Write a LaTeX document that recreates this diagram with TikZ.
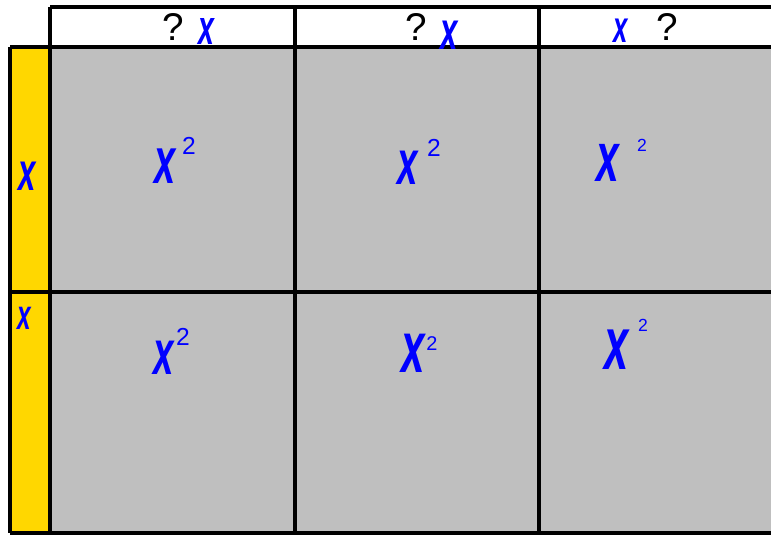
\documentclass[tikz,border=0pt]{standalone}
\usepackage{fontspec}
\setmainfont{Liberation Sans}
\definecolor{cellgray}{HTML}{BFBFBF}
\definecolor{sidegold}{HTML}{FFD700}
\definecolor{penblue}{HTML}{0000FF}
% hand written x, narrow and tall
\newcommand{\hx}[1]{{\fontsize{#1}{#1}\selectfont\scalebox{0.58}[1]{\bfseries\itshape x}}}
\begin{document}
\begin{tikzpicture}[x=0.03cm,y=-0.03cm,
  frame/.style={line width=3.8pt},
  qmark/.style={font=\fontsize{33}{33}\selectfont},
  pen/.style={text=penblue,inner sep=0pt},
  sq/.style={text=penblue,inner sep=0pt,font=\fontsize{21}{21}\selectfont}]
\useasboundingbox (0,0) rectangle (771,536);
% areas
\fill[white] (50,7) rectangle (771,47);
\fill[cellgray] (50,47) rectangle (771,533);
\fill[sidegold] (10,47) rectangle (50,533);
% grid
\draw[frame,line width=3pt] (50,7)--(775,7);
\draw[frame] (10,47)--(775,47);
\draw[frame] (10,292)--(775,292);
\draw[frame] (10,533)--(775,533);
\draw[frame] (10,47)--(10,533);
\draw[frame] (50,7)--(50,533);
\draw[frame] (295,7)--(295,533);
\draw[frame] (539,7)--(539,533);
% header
\node[qmark] (h1q) at (173,27) {?};
\node[pen] (h1x) at (206,32) {\hx{42}};
\node[qmark] (h2q) at (416,27) {?};
\node[pen] (h2x) at (449,35) {\hx{46}};
\node[pen] (h3x) at (621,31) {\hx{38}};
\node[qmark] (h3q) at (667,27) {?};
% side
\node[pen] (s1) at (27,176) {\hx{46}};
\node[pen] (s2) at (24,318) {\hx{36}};
% cells
\node[pen] (c11) at (165,166) {\hx{56}};
\node[sq] (c11e) at (189,146) {2};
\node[pen] (c12) at (408,168) {\hx{54}};
\node[sq] (c12e) at (434,148) {2};
\node[pen] (c13) at (608,163) {\hx{60}};
\node[sq,font=\fontsize{15}{15}\selectfont] (c13e) at (642,145) {2};
\node[pen] (c21) at (164,358) {\hx{54}};
\node[sq] (c21e) at (183,337) {2};
\node[pen] (c22) at (413,353) {\hx{62}};
\node[sq,font=\fontsize{17}{17}\selectfont] (c22e) at (432,344) {2};
\node[pen] (c23) at (617,350) {\hx{64}};
\node[sq,font=\fontsize{15}{15}\selectfont] (c23e) at (643,325) {2};
\end{tikzpicture}
\end{document}
